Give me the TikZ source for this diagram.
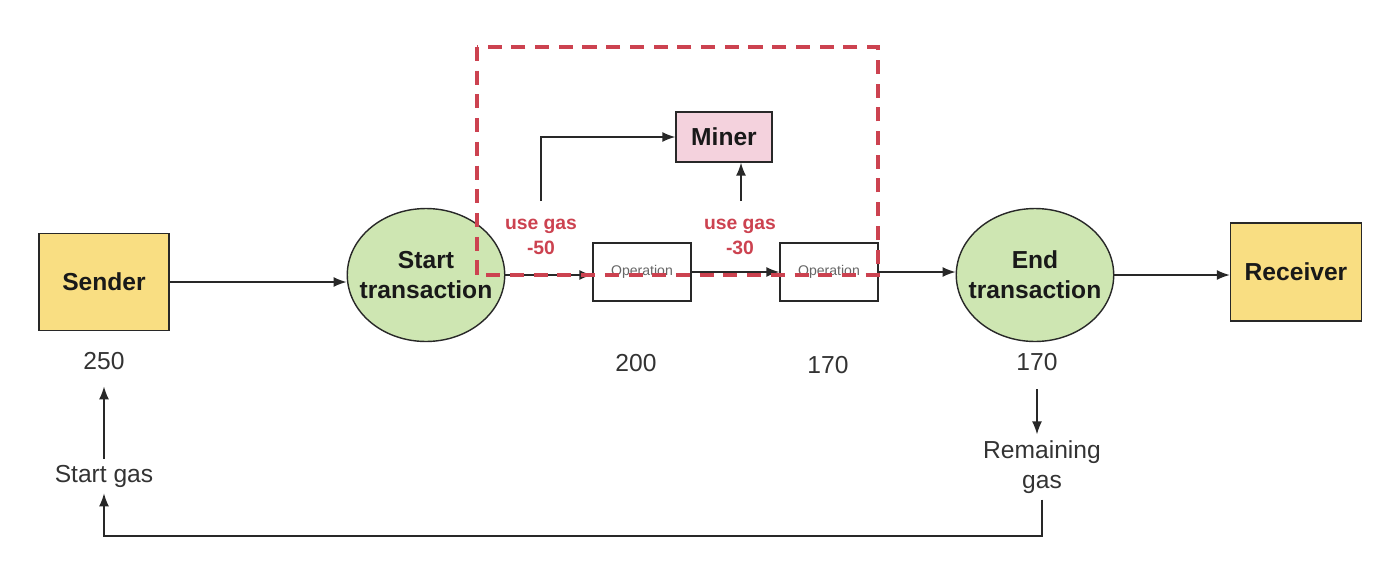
\documentclass[tikz,border=0pt]{standalone}
\usepackage{fontspec}
\setmainfont{Liberation Sans}
\usetikzlibrary{shapes.geometric,arrows.meta}
\definecolor{sendfill}{RGB}{249,222,130}
\definecolor{txfill}{RGB}{206,230,178}
\definecolor{minerfill}{RGB}{244,210,221}
\definecolor{gasred}{RGB}{204,66,80}
\definecolor{edge}{RGB}{40,40,40}
\begin{document}
\begin{tikzpicture}[x=0.02cm, y=-0.02cm,
    every node/.style={text=edge},
    party/.style={draw=edge, line width=0.8pt, fill=sendfill, inner sep=0pt,
      minimum width=2.6cm, minimum height=1.94cm, font=\bfseries\fontsize{14}{17}\selectfont, text=black!90},
    txn/.style={ellipse, draw=edge, line width=0.8pt, fill=txfill, inner sep=0pt,
      minimum width=3.15cm, minimum height=2.66cm},
    txntext/.style={align=center, font=\bfseries\fontsize{14}{17}\selectfont, text=black!90},
    opbox/.style={draw=edge, line width=0.8pt, fill=white, inner sep=0pt,
      minimum width=1.96cm, minimum height=1.16cm, font=\fontsize{8}{10}\selectfont, text=black!60},
    val/.style={font=\fontsize{14}{17}\selectfont, align=center, text=black!80},
    usegas/.style={font=\bfseries\fontsize{11}{14.5}\selectfont, text=gasred, align=center},
    arr/.style={draw=edge, line width=0.8pt, -{Latex[length=2.6mm,width=2mm]}}]
  \useasboundingbox (0,0) rectangle (1384,562);
  % main chain
  \node[party] (sender) at (104,282) {Sender};
  \node[txn, label={[txntext]center:Start\\transaction}] (start) at (426,275) {};
  \node[opbox] (op1) at (642,272) {Operation};
  \node[opbox] (op2) at (829,272) {Operation};
  \node[txn, label={[txntext]center:End\\transaction}] (end) at (1035,275) {};
  \node[party, minimum width=2.62cm, minimum height=1.96cm] (receiver) at (1296,272) {Receiver};
  \node[party, fill=minerfill, minimum width=1.92cm, minimum height=1cm] (miner) at (724,137) {Miner};
  \draw[arr] (sender.east) -- (start.west |- sender.east);
  \draw[arr] (start.east) -- (op1.west |- start.east);
  \draw[arr] (op1) -- (op2);
  \draw[arr] (op2.east) -- (op2.east -| end.west);
  \draw[arr] (end.east) -- (end.east -| receiver.west);
  % gas used
  \node[usegas] (use50) at (541,237) {use gas\\-50};
  \node[usegas] (use30) at (740,237) {use gas\\-30};
  \coordinate (tap50) at (541,201);
  \coordinate (tap30) at (741,201);
  \draw[arr] (tap50) |- (miner.west);
  \draw[arr] (tap30) -- (tap30 |- miner.south);
  % gas values
  \node[val] (n250) at (104,361) {250};
  \node[val] (n200) at (636,363) {200};
  \node[val] (n170a) at (828,365) {170};
  \node[val] (n170b) at (1037,362) {170};
  \node[val] (startgas) at (104,476) {Start gas};
  \node[val] (remain) at (1042,467) {Remaining\\gas};
  \draw[arr, shorten >=6pt] (startgas.north) -- (n250.south);
  \draw[arr, shorten <=7pt] (n170b.south) -- (n170b.south |- remain.north);
  \coordinate (loopy) at (0,536);
  \draw[arr] (remain.south) -- (remain.south |- loopy) -| (startgas.south);
  % miner fee area
  \draw[gasred, line width=2pt, dash pattern=on 8pt off 5.5pt] (477,47) rectangle (878,275);
\end{tikzpicture}
\end{document}
